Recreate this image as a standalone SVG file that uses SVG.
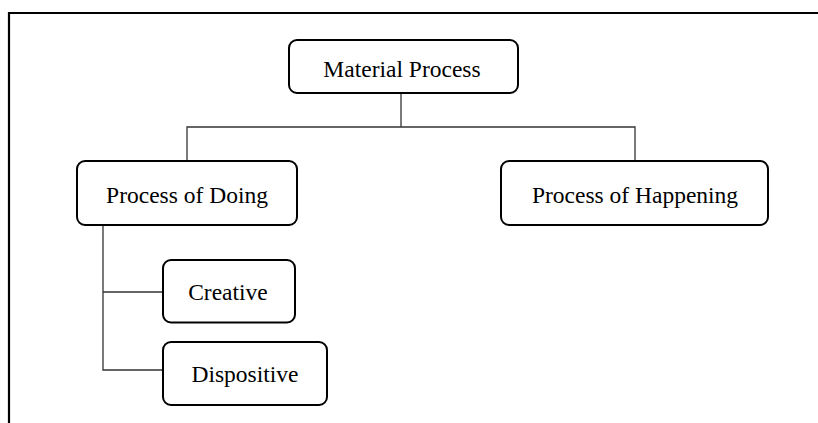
<svg xmlns="http://www.w3.org/2000/svg" width="818" height="423" viewBox="0 0 818 423">
<style>
.box{fill:#fff;stroke:#000;stroke-width:2}
.lbl{font-family:"Liberation Serif","Times New Roman",serif;font-size:23.5px;fill:#000;text-anchor:middle}
.con{fill:none;stroke:#333;stroke-width:1.3}
.frame{fill:none;stroke:#000;stroke-width:2.2}
</style>
<rect width="818" height="423" fill="#fff"/>
<path class="frame" d="M9,423 V13 H818"/>
<g id="connectors">
<path class="con" d="M401,93 V127"/>
<path class="con" d="M187,161 V127 H635 V161"/>
<path class="con" d="M103,225 V370 H163"/>
<path class="con" d="M103,292 H163"/>
</g>
<g id="material-process">
<rect class="box" x="289" y="40" width="229" height="53" rx="8"/>
<text class="lbl" x="402" y="76.5">Material Process</text>
</g>
<g id="process-of-doing">
<rect class="box" x="77" y="161" width="220" height="64" rx="8"/>
<text class="lbl" x="187" y="202.5">Process of Doing</text>
</g>
<g id="process-of-happening">
<rect class="box" x="501" y="161" width="267" height="64" rx="8"/>
<text class="lbl" x="635" y="202.5">Process of Happening</text>
</g>
<g id="creative">
<rect class="box" x="163" y="260" width="132" height="62.5" rx="8"/>
<text class="lbl" x="228" y="300">Creative</text>
</g>
<g id="dispositive">
<rect class="box" x="163" y="342" width="164" height="63" rx="8"/>
<text class="lbl" x="245" y="382">Dispositive</text>
</g>
</svg>
